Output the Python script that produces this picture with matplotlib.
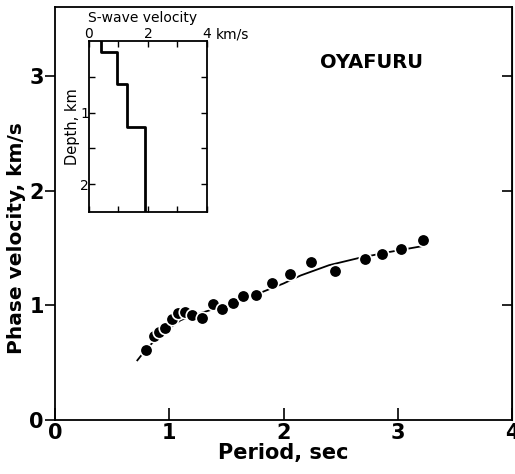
import matplotlib.pyplot as plt

plt.rcParams['font.family'] = ['DejaVu Sans']

# observed phase velocities
period = [0.80, 0.87, 0.91, 0.965, 1.02, 1.08, 1.14, 1.20, 1.29, 1.38, 1.46,
          1.56, 1.645, 1.76, 1.90, 2.06, 2.24, 2.45, 2.71, 2.86, 3.03, 3.22]
velocity = [0.61, 0.73, 0.77, 0.80, 0.88, 0.93, 0.94, 0.915, 0.89, 1.01, 0.965,
            1.02, 1.08, 1.09, 1.19, 1.27, 1.375, 1.30, 1.40, 1.45, 1.49, 1.57]

# theoretical dispersion curve
curve_period = [0.72, 0.8, 0.9, 1.0, 1.1, 1.2, 1.3, 1.5, 1.75, 2.0, 2.15,
                2.4, 2.65, 2.9, 3.24]
curve_velocity = [0.52, 0.62, 0.72, 0.80, 0.87, 0.91, 0.94, 1.00, 1.09, 1.19,
                  1.26, 1.35, 1.41, 1.46, 1.52]

# S-wave velocity structure (step profile)
vs_layers = [0.4, 0.95, 1.3, 1.9]
layer_bottoms = [0.15, 0.6, 1.2, 2.4]

fig = plt.figure(figsize=(5.15, 4.74), dpi=100)
ax = fig.add_axes([0.107, 0.114, 0.887, 0.871])

ax.plot(curve_period, curve_velocity, color='black', lw=1.3, zorder=2)
ax.plot(period, velocity, 'o', color='black', ms=9, mec='white', mew=1.2, zorder=3)

ax.set_xlim(0, 4)
ax.set_ylim(0, 3.6)
ax.set_xticks([0, 1, 2, 3, 4])
ax.set_yticks([0, 1, 2, 3])
ax.tick_params(axis='x', direction='in', length=9, width=1.2, labelsize=15, pad=2)
ax.tick_params(axis='y', direction='out', length=7, width=1.2, labelsize=15, pad=1)
for lab in ax.get_xticklabels() + ax.get_yticklabels():
    lab.set_fontweight('bold')
for s in ax.spines.values():
    s.set_linewidth(1.3)

sec = ax.secondary_yaxis('right')
sec.set_yticks([1, 2, 3])
sec.tick_params(direction='in', length=7, width=1.2, labelright=False)

ax.set_xlabel('Period, sec', fontsize=15, fontweight='bold', labelpad=0)
ax.set_ylabel('Phase velocity, km/s', fontsize=14.5, fontweight='bold')
ax.yaxis.set_label_coords(-0.063, 0.44)
ax.text(2.77, 3.12, 'OYAFURU', fontsize=14, fontweight='bold', ha='center', va='center')

# inset: velocity structure
ins = fig.add_axes([0.1728, 0.5527, 0.229, 0.3608])
depth = [0] + layer_bottoms
vel = []
depth_steps = []
for i, v in enumerate(vs_layers):
    vel += [v, v]
    depth_steps += [depth[i], depth[i + 1]]
ins.plot(vel, depth_steps, color='black', lw=2)
ins.set_xlim(0, 4)
ins.set_ylim(2.39, 0)
ins.xaxis.tick_top()
ins.xaxis.set_label_position('top')
ins.set_xticks([0, 1, 2, 3, 4])
ins.set_xticklabels(['0', '', '2', '', '4'])
ins.set_yticks([0.5, 1, 1.5, 2])
ins.set_yticklabels(['', '1', '', '2'])
ins.tick_params(direction='in', length=4, width=1, labelsize=10, pad=0,
                top=True, bottom=True, left=True, right=True)
for s in ins.spines.values():
    s.set_linewidth(1.3)
ins.set_xlabel('S-wave velocity', fontsize=10, va='bottom')
ins.xaxis.set_label_coords(0.45, 1.095)
ins.set_ylabel('Depth, km', fontsize=10.5, labelpad=0)
ins.text(4.3, 1.0, 'km/s', transform=ins.get_xaxis_transform(), fontsize=10,
         ha='left', va='bottom')

fig.savefig('out.png', dpi=100)
